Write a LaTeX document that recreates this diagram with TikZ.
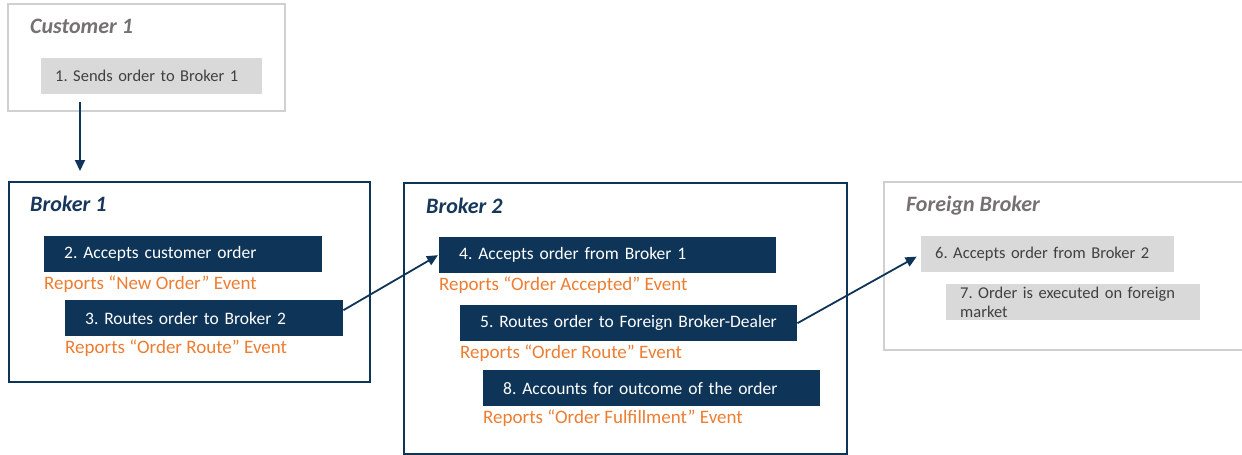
\documentclass[tikz,border=0pt]{standalone}
\usepackage{fontspec}
\setmainfont{Carlito}
\usetikzlibrary{arrows.meta}
\definecolor{navy}{RGB}{14,52,88}
\definecolor{titlenavy}{RGB}{22,54,92}
\definecolor{eventorange}{RGB}{237,125,49}
\definecolor{stepgray}{RGB}{217,217,217}
\definecolor{framegray}{RGB}{208,208,208}
\definecolor{titlegray}{RGB}{118,113,113}

\begin{document}
\frenchspacing
\begin{tikzpicture}[x=1pt,y=-1pt,
  party/.style={draw=navy,line width=1.5pt,fill=white,anchor=north west,inner sep=0},
  title/.style={anchor=base west,inner sep=0,font=\fontsize{22}{25}\bfseries\itshape\selectfont},
  stepbox/.style={fill=navy,text=white,anchor=north west,minimum height=36pt,inner ysep=0,inner xsep=20pt,align=left,font=\fontsize{17.5}{20}\selectfont},
  graystep/.style={stepbox,fill=stepgray,text=black!75,inner xsep=14pt,font=\fontsize{16.5}{19}\selectfont},
  report/.style={anchor=north west,inner sep=0,text=eventorange,font=\fontsize{19}{22}\selectfont},
  flow/.style={-{Triangle[length=11pt,width=10pt]},draw=navy,line width=1.8pt}]
  \useasboundingbox (0,0) rectangle (1242,455);

  \node[party,draw=framegray,minimum width=277pt,minimum height=107pt] (cust) at (7,3) {};
  \node[party,minimum width=361pt,minimum height=200pt] (b1) at (8,181) {};
  \node[party,minimum width=443pt,minimum height=271pt] (b2) at (403,182) {};
  \node[party,draw=framegray,minimum width=370pt,minimum height=168pt] (fb) at (883,181) {};

  \node[title,text=titlegray] (custT) at (30,33) {Customer 1};
  \node[title,text=titlenavy] (b1T) at (30,211) {Broker 1};
  \node[title,text=titlenavy] (b2T) at (426,213) {Broker 2};
  \node[title,text=titlegray] (fbT) at (906,211) {Foreign Broker};

  \node[graystep,text width=193pt] (s1) at (41,58) {1. Sends order to Broker 1};
  \node[stepbox,text width=238pt] (s2) at (44,236) {2. Accepts customer order};
  \node[stepbox,text width=238pt] (s3) at (65,300) {3. Routes order to Broker 2};
  \node[stepbox,text width=297pt] (s4) at (439,237) {4. Accepts order from Broker 1};
  \node[stepbox,text width=297pt] (s5) at (460,305) {5. Routes order to Foreign Broker-Dealer};
  \node[graystep,text width=225pt] (s6) at (921,236) {6. Accepts order from Broker 2};
  \node[graystep,text width=226pt] (s7) at (946,284) {7. Order is executed on foreign\\market};
  \node[stepbox,text width=297pt] (s8) at (483,370) {8. Accounts for outcome of the order};

  \node[report] (r2) at ([yshift=-3pt]s2.south west) {Reports “New Order” Event};
  \node[report] (r3) at ([yshift=-3pt]s3.south west) {Reports “Order Route” Event};
  \node[report] (r4) at ([yshift=-3pt]s4.south west) {Reports “Order Accepted” Event};
  \node[report] (r5) at ([yshift=-3pt]s5.south west) {Reports “Order Route” Event};
  \node[report] (r8) at ([yshift=-3pt]s8.south west) {Reports “Order Fulfillment” Event};

  \coordinate (out1) at ([xshift=39pt,yshift=-8pt]s1.south west);
  \draw[flow,shorten >=10pt] (out1) -- (b1.north west -| out1);
  \draw[flow] ([yshift=8pt]s3.east) -- ([xshift=-1pt]s4.west);
  \draw[flow,shorten >=5pt] (s5.east) -- (s6.west);
\end{tikzpicture}
\end{document}
